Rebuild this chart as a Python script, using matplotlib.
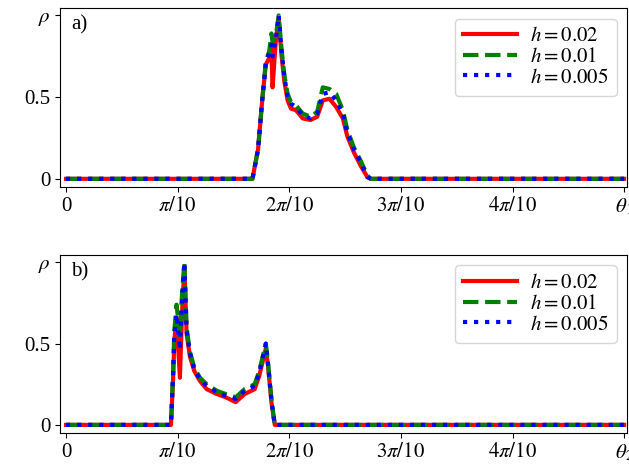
import numpy as np
import matplotlib.pyplot as plt

plt.rcParams['font.family'] = ['Liberation Serif', 'DejaVu Serif']
plt.rcParams['mathtext.fontset'] = 'stix'

# angles in units of pi/10
theta_a = [0, 1.67, 1.72, 1.76, 1.79, 1.82, 1.84, 1.85, 1.88, 1.905, 1.93, 1.955, 1.985, 2.015,
           2.06, 2.12, 2.19, 2.25, 2.30, 2.36, 2.42, 2.48, 2.52, 2.58, 2.64, 2.70, 2.73, 5.0]
rho_a_002 = [0, 0, 0.18, 0.50, 0.70, 0.74, 0.80, 0.56, 0.85, 0.98, 0.76, 0.60, 0.48, 0.43,
             0.42, 0.37, 0.36, 0.38, 0.48, 0.49, 0.44, 0.37, 0.26, 0.16, 0.08, 0.01, 0, 0]
rho_a_001 = [0, 0, 0.18, 0.50, 0.72, 0.78, 0.89, 0.84, 0.88, 1.00, 0.80, 0.64, 0.52, 0.47,
             0.45, 0.40, 0.38, 0.41, 0.56, 0.55, 0.52, 0.42, 0.30, 0.19, 0.11, 0.02, 0, 0]
rho_a_0005 = [0, 0, 0.18, 0.50, 0.71, 0.77, 0.82, 0.75, 0.86, 1.00, 0.79, 0.63, 0.50, 0.46,
              0.44, 0.39, 0.37, 0.40, 0.52, 0.53, 0.48, 0.40, 0.28, 0.18, 0.10, 0.01, 0, 0]

theta_b = [0, 0.94, 0.96, 0.97, 0.99, 1.02, 1.04, 1.06, 1.08, 1.11, 1.15, 1.20, 1.26, 1.35,
           1.43, 1.52, 1.60, 1.69, 1.73, 1.79, 1.81, 1.84, 1.87, 5.0]
rho_b_002 = [0, 0, 0.30, 0.52, 0.66, 0.29, 0.70, 0.97, 0.56, 0.42, 0.33, 0.27, 0.22, 0.19,
             0.17, 0.14, 0.19, 0.22, 0.30, 0.47, 0.36, 0.14, 0, 0]
rho_b_001 = [0, 0, 0.34, 0.58, 0.74, 0.55, 0.82, 1.00, 0.60, 0.45, 0.35, 0.29, 0.25, 0.21,
             0.19, 0.17, 0.22, 0.25, 0.33, 0.50, 0.38, 0.16, 0, 0]
rho_b_0005 = [0, 0, 0.32, 0.55, 0.68, 0.46, 0.78, 1.00, 0.58, 0.44, 0.34, 0.28, 0.24, 0.20,
              0.18, 0.16, 0.21, 0.24, 0.32, 0.50, 0.37, 0.15, 0, 0]

labels = [r'$h=0.02$', r'$h=0.01$', r'$h=0.005$']
xticks = [0, 1, 2, 3, 4, 5]
xlabels_a = ['0', r'$\pi/10$', r'$2\pi/10$', r'$3\pi/10$', r'$4\pi/10$', r'$\theta_1$']
xlabels_b = ['0', r'$\pi/10$', r'$2\pi/10$', r'$3\pi/10$', r'$4\pi/10$', r'$\theta_2$']

fig = plt.figure(figsize=(6.29, 4.67), dpi=100)
ax1 = fig.add_axes([0.0954, 0.5996, 0.9014, 0.383])
ax2 = fig.add_axes([0.0954, 0.0728, 0.9014, 0.381])

panels = [(ax1, theta_a, [rho_a_002, rho_a_001, rho_a_0005], xlabels_a, 'a)'),
          (ax2, theta_b, [rho_b_002, rho_b_001, rho_b_0005], xlabels_b, 'b)')]

for ax, th, rhos, xl, tag in panels:
    x = np.array(th) * np.pi / 10
    ax.plot(x, rhos[0], color='red', ls='-', lw=3, label=labels[0])
    ax.plot(x, rhos[1], color='green', ls='--', lw=3, label=labels[1])
    ax.plot(x, rhos[2], color='blue', ls=':', lw=3, label=labels[2])
    ax.set_xlim(-0.017, np.pi / 2 + 0.008)
    ax.set_ylim(-0.05, 1.045)
    ax.set_xticks(np.array(xticks) * np.pi / 10)
    ax.set_xticklabels(xl)
    ax.set_yticks([0, 0.5, 1])
    ax.set_yticklabels(['0', '0.5', r'$\rho$'])
    ax.tick_params(labelsize=15)
    ax.text(0.02, 0.88, tag, transform=ax.transAxes, fontsize=15)
    ax.legend(loc='upper right', fontsize=15, handlelength=2.6, labelspacing=0.05,
              borderaxespad=0.5, handletextpad=0.6)

plt.savefig('out.png', dpi=100)
